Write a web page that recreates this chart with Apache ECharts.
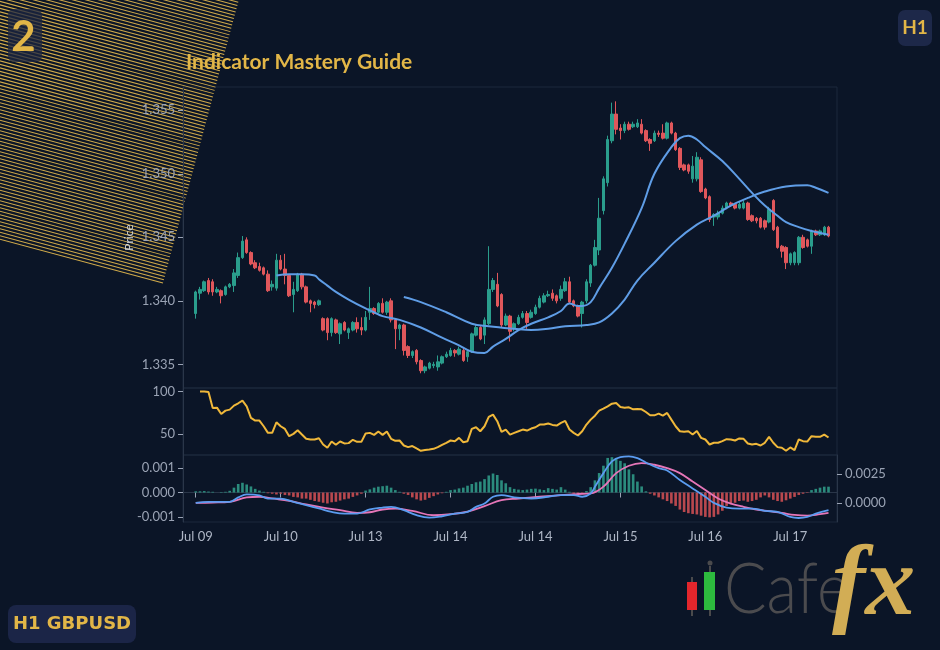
<!DOCTYPE html>
<html>
<head>
<meta charset="utf-8">
<script src="https://cdn.jsdelivr.net/npm/echarts@6/dist/echarts.min.js"></script>
<style>
  html, body { margin: 0; padding: 0; background: #0b1527; }
  #chart { width: 940px; height: 650px; }
</style>
</head>
<body>
<div id="chart"></div>
<script>
// tick labels, one every 20 hourly bars
const tickLabels = ['Jul 09', 'Jul 10', 'Jul 13', 'Jul 14', 'Jul 14', 'Jul 15', 'Jul 16', 'Jul 17'];

// GBPUSD H1 candles
const opens = [
  1.3390, 1.3406, 1.3408, 1.3416, 1.3415, 1.3407, 1.3408, 1.3405, 1.3411, 1.3412,
  1.3420, 1.3434, 1.3448, 1.3438, 1.3430, 1.3427, 1.3426, 1.3421, 1.3411, 1.3410,
  1.3432, 1.3425, 1.3420, 1.3405, 1.3408, 1.3421, 1.3411, 1.3400, 1.3399, 1.3397,
  1.3386, 1.3386, 1.3375, 1.3385, 1.3374, 1.3383, 1.3375, 1.3377, 1.3383, 1.3379,
  1.3377, 1.3391, 1.3394, 1.3391, 1.3398, 1.3391, 1.3400, 1.3385, 1.3378, 1.3381,
  1.3364, 1.3357, 1.3361, 1.3353, 1.3345, 1.3347, 1.3349, 1.3348, 1.3351, 1.3356,
  1.3357, 1.3361, 1.3358, 1.3361, 1.3356, 1.3360, 1.3373, 1.3379, 1.3373, 1.3382,
  1.3409, 1.3413, 1.3405, 1.3381, 1.3388, 1.3378, 1.3382, 1.3387, 1.3390, 1.3387,
  1.3390, 1.3395, 1.3399, 1.3404, 1.3406, 1.3404, 1.3402, 1.3408, 1.3415, 1.3400,
  1.3396, 1.3390, 1.3400, 1.3414, 1.3428, 1.3440, 1.3471, 1.3493, 1.3526, 1.3547,
  1.3536, 1.3534, 1.3539, 1.3537, 1.3537, 1.3539, 1.3534, 1.3527, 1.3526, 1.3532,
  1.3532, 1.3528, 1.3540, 1.3532, 1.3520, 1.3507, 1.3507, 1.3496, 1.3496, 1.3511,
  1.3488, 1.3482, 1.3466, 1.3466, 1.3469, 1.3473, 1.3477, 1.3476, 1.3473, 1.3473,
  1.3477, 1.3467, 1.3465, 1.3465, 1.3463, 1.3462, 1.3479, 1.3458, 1.3443, 1.3442,
  1.3430, 1.3430, 1.3430, 1.3450, 1.3448, 1.3443, 1.3455, 1.3452, 1.3452, 1.3458
];
const closes = [
  1.3407, 1.3409, 1.3415, 1.3407, 1.3407, 1.3409, 1.3404, 1.3411, 1.3413, 1.3422,
  1.3434, 1.3447, 1.3438, 1.3429, 1.3426, 1.3424, 1.3421, 1.3408, 1.3413, 1.3432,
  1.3425, 1.3420, 1.3404, 1.3409, 1.3421, 1.3411, 1.3399, 1.3398, 1.3397, 1.3400,
  1.3377, 1.3375, 1.3386, 1.3375, 1.3382, 1.3377, 1.3378, 1.3383, 1.3378, 1.3377,
  1.3387, 1.3394, 1.3390, 1.3398, 1.3391, 1.3399, 1.3385, 1.3378, 1.3381, 1.3361,
  1.3357, 1.3360, 1.3352, 1.3345, 1.3348, 1.3351, 1.3350, 1.3352, 1.3356, 1.3358,
  1.3361, 1.3359, 1.3362, 1.3353, 1.3360, 1.3374, 1.3379, 1.3370, 1.3385, 1.3409,
  1.3416, 1.3396, 1.3381, 1.3388, 1.3376, 1.3382, 1.3387, 1.3390, 1.3383, 1.3391,
  1.3395, 1.3402, 1.3404, 1.3405, 1.3402, 1.3400, 1.3409, 1.3415, 1.3399, 1.3396,
  1.3388, 1.3399, 1.3415, 1.3428, 1.3442, 1.3465, 1.3496, 1.3527, 1.3547, 1.3535,
  1.3534, 1.3539, 1.3535, 1.3539, 1.3540, 1.3532, 1.3526, 1.3524, 1.3532, 1.3531,
  1.3528, 1.3540, 1.3532, 1.3519, 1.3505, 1.3503, 1.3502, 1.3506, 1.3513, 1.3486,
  1.3481, 1.3464, 1.3468, 1.3469, 1.3473, 1.3477, 1.3475, 1.3473, 1.3476, 1.3477,
  1.3464, 1.3463, 1.3463, 1.3458, 1.3458, 1.3472, 1.3456, 1.3442, 1.3439, 1.3430,
  1.3437, 1.3438, 1.3450, 1.3442, 1.3443, 1.3455, 1.3452, 1.3455, 1.3458, 1.3451
];
const lows = [
  1.3386, 1.3401, 1.3407, 1.3405, 1.3404, 1.3406, 1.3398, 1.3404, 1.3410, 1.3407,
  1.3418, 1.3433, 1.3437, 1.3428, 1.3425, 1.3423, 1.3420, 1.3407, 1.3408, 1.3408,
  1.3424, 1.3413, 1.3403, 1.3391, 1.3407, 1.3409, 1.3398, 1.3391, 1.3394, 1.3396,
  1.3376, 1.3369, 1.3372, 1.3374, 1.3366, 1.3376, 1.3370, 1.3376, 1.3375, 1.3373,
  1.3376, 1.3385, 1.3389, 1.3390, 1.3390, 1.3389, 1.3383, 1.3362, 1.3369, 1.3357,
  1.3355, 1.3355, 1.3350, 1.3343, 1.3343, 1.3346, 1.3347, 1.3345, 1.3350, 1.3355,
  1.3356, 1.3356, 1.3357, 1.3352, 1.3352, 1.3359, 1.3372, 1.3369, 1.3366, 1.3381,
  1.3407, 1.3395, 1.3379, 1.3380, 1.3368, 1.3376, 1.3381, 1.3386, 1.3378, 1.3386,
  1.3389, 1.3394, 1.3398, 1.3403, 1.3400, 1.3398, 1.3400, 1.3407, 1.3398, 1.3395,
  1.3387, 1.3379, 1.3398, 1.3411, 1.3427, 1.3436, 1.3468, 1.3490, 1.3524, 1.3531,
  1.3527, 1.3532, 1.3534, 1.3536, 1.3536, 1.3531, 1.3525, 1.3518, 1.3525, 1.3529,
  1.3527, 1.3527, 1.3531, 1.3518, 1.3503, 1.3502, 1.3500, 1.3493, 1.3494, 1.3485,
  1.3480, 1.3462, 1.3459, 1.3464, 1.3468, 1.3472, 1.3474, 1.3472, 1.3472, 1.3472,
  1.3463, 1.3462, 1.3461, 1.3457, 1.3456, 1.3461, 1.3455, 1.3441, 1.3434, 1.3425,
  1.3428, 1.3428, 1.3428, 1.3441, 1.3442, 1.3437, 1.3451, 1.3451, 1.3451, 1.3450
];
const highs = [
  1.3408, 1.3411, 1.3416, 1.3418, 1.3417, 1.3411, 1.3409, 1.3412, 1.3414, 1.3425,
  1.3438, 1.3451, 1.3450, 1.3439, 1.3432, 1.3430, 1.3427, 1.3424, 1.3416, 1.3437,
  1.3436, 1.3437, 1.3421, 1.3415, 1.3422, 1.3422, 1.3412, 1.3401, 1.3400, 1.3401,
  1.3387, 1.3387, 1.3387, 1.3386, 1.3383, 1.3384, 1.3379, 1.3384, 1.3387, 1.3387,
  1.3392, 1.3411, 1.3395, 1.3399, 1.3402, 1.3400, 1.3402, 1.3386, 1.3382, 1.3382,
  1.3365, 1.3361, 1.3362, 1.3354, 1.3349, 1.3352, 1.3352, 1.3357, 1.3357, 1.3360,
  1.3363, 1.3362, 1.3364, 1.3363, 1.3361, 1.3375, 1.3381, 1.3380, 1.3387, 1.3443,
  1.3418, 1.3422, 1.3406, 1.3390, 1.3389, 1.3383, 1.3389, 1.3392, 1.3392, 1.3393,
  1.3397, 1.3404, 1.3406, 1.3408, 1.3409, 1.3405, 1.3412, 1.3418, 1.3419, 1.3401,
  1.3397, 1.3400, 1.3417, 1.3429, 1.3448, 1.3481, 1.3498, 1.3530, 1.3556, 1.3557,
  1.3539, 1.3541, 1.3541, 1.3541, 1.3543, 1.3543, 1.3535, 1.3528, 1.3534, 1.3534,
  1.3539, 1.3541, 1.3541, 1.3533, 1.3521, 1.3508, 1.3508, 1.3514, 1.3517, 1.3513,
  1.3489, 1.3483, 1.3469, 1.3471, 1.3475, 1.3478, 1.3478, 1.3477, 1.3478, 1.3479,
  1.3478, 1.3468, 1.3466, 1.3466, 1.3464, 1.3474, 1.3480, 1.3459, 1.3444, 1.3443,
  1.3438, 1.3439, 1.3451, 1.3452, 1.3449, 1.3456, 1.3456, 1.3456, 1.3459, 1.3459
];

// moving averages, read at [bar, value]
const ma20 = [
  [19, 1.3420], [22, 1.3421], [25, 1.3421], [28, 1.3420], [29, 1.3417], [31, 1.3412],
  [33, 1.3407], [36, 1.3401], [40, 1.3394], [42, 1.3391], [44, 1.3388], [48, 1.3385],
  [53, 1.3379], [58, 1.3371], [62, 1.3365], [65, 1.3360], [68, 1.3359], [70, 1.3364],
  [73, 1.3370], [76, 1.3377], [79, 1.3382], [83, 1.3387], [86, 1.3392], [88, 1.3398],
  [90, 1.3396], [91, 1.3396], [93, 1.3399], [95, 1.3410], [98, 1.3426], [101, 1.3445],
  [105, 1.3473], [108, 1.3500], [112, 1.3521], [114, 1.3528], [116, 1.3530], [118, 1.3527],
  [120, 1.3521], [124, 1.3510], [128, 1.3496], [131, 1.3485], [134, 1.3475], [137, 1.3467],
  [139, 1.3462], [142, 1.3458], [145, 1.3455], [149, 1.3452]
];
const ma50 = [
  [49, 1.3403], [53, 1.3399], [59, 1.3391], [65, 1.3382], [69, 1.3380], [75, 1.3378],
  [79, 1.3377], [83, 1.3378], [87, 1.3380], [92, 1.3381], [95, 1.3383], [98, 1.3390],
  [101, 1.3401], [104, 1.3416], [108, 1.3430], [113, 1.3447], [118, 1.3460], [122, 1.3467],
  [126, 1.3475], [130, 1.3481], [134, 1.3486], [139, 1.3490], [144, 1.3491], [146, 1.3489],
  [149, 1.3485]
];

// RSI per bar (first bar has none)
const rsi = [
  null, 100, 100, 99.2, 80.4, 80.8, 73.4, 77.3, 78.5, 83.2,
  86.0, 89.1, 82.4, 68.7, 65.6, 65.6, 58.9, 51.1, 51.1, 63.6,
  58.9, 55.8, 47.2, 49.9, 54.2, 49.1, 44.1, 43.3, 43.3, 44.8,
  37.4, 33.5, 40.9, 37.0, 40.9, 38.6, 39.0, 42.9, 40.5, 40.5,
  50.3, 51.1, 48.7, 52.7, 48.7, 52.7, 44.1, 41.7, 42.1, 36.2,
  34.3, 35.5, 32.7, 30.0, 30.8, 31.5, 32.3, 34.3, 37.0, 39.4,
  42.1, 41.3, 45.2, 40.1, 41.3, 55.8, 57.7, 53.0, 58.9, 69.9,
  72.6, 64.8, 52.3, 55.0, 49.1, 51.1, 53.0, 55.0, 53.8, 56.2,
  57.7, 60.9, 60.9, 62.1, 60.5, 59.7, 62.8, 65.2, 55.0, 51.1,
  48.0, 53.0, 60.9, 66.7, 71.4, 77.3, 79.7, 82.4, 85.5, 86.3,
  81.6, 80.8, 81.2, 78.9, 79.3, 78.9, 75.7, 71.8, 71.8, 73.8,
  71.4, 74.6, 66.7, 58.9, 53.0, 52.3, 53.0, 49.1, 53.4, 45.2,
  43.3, 37.4, 39.4, 39.4, 41.3, 43.7, 43.3, 42.1, 44.5, 44.1,
  38.6, 37.4, 38.2, 36.2, 39.4, 46.4, 39.4, 34.3, 33.5, 30.0,
  33.9, 30.8, 43.3, 41.3, 40.9, 47.2, 46.4, 46.4, 49.1, 45.6
];

// MACD histogram per bar (left scale)
const macdHist = [
  0.00005, 0.00005, 0.00006, 0.00004, 0.00003, 0.0, 0.00002, 0.00003, 0.00007, 0.0002,
  0.00035, 0.0004, 0.00033, 0.00025, 0.00015, 0.00008, 0.00003, -0.00003, -0.00005, -0.00008,
  -0.00005, -0.0001, -0.00012, -0.00018, -0.0002, -0.00025, -0.00025, -0.0003, -0.00035, -0.00038,
  -0.00042, -0.00045, -0.0004, -0.00038, -0.00033, -0.00028, -0.00025, -0.00018, -0.00012, -0.00005,
  0.00008, 0.00013, 0.0002, 0.00024, 0.00026, 0.00028, 0.0002, 0.0001, 0.00003, -0.00005,
  -0.0001, -0.0002, -0.00028, -0.00033, -0.0003, -0.00022, -0.00015, -0.00008, -0.00003, 0.00003,
  0.0001, 0.00012, 0.00017, 0.0002, 0.00028, 0.00035, 0.00042, 0.00045, 0.00055, 0.0007,
  0.00078, 0.00072, 0.0005, 0.00038, 0.00022, 0.00015, 0.00012, 0.0001, 0.00012, 0.00015,
  0.00016, 0.00013, 0.0001, 0.00018, 0.00015, 0.00012, 0.00022, 0.00012, 0.00003, -0.00005,
  -0.00005, -0.00003, 0.00006, 0.00022, 0.0005, 0.0008, 0.0011, 0.00142, 0.00145, 0.00142,
  0.0013, 0.0012, 0.00095, 0.00075, 0.00045, 0.00025, 0.00005, -0.00005, -0.00012, -0.0002,
  -0.00028, -0.00035, -0.00045, -0.00055, -0.0007, -0.0008, -0.00085, -0.00088, -0.0009, -0.00095,
  -0.001, -0.00102, -0.001, -0.0009, -0.00075, -0.00055, -0.00048, -0.00042, -0.00035, -0.00033,
  -0.00038, -0.00035, -0.0003, -0.0002, -0.00012, -0.0002, -0.0003, -0.00035, -0.00038, -0.00032,
  -0.00025, -0.00018, -0.0001, -0.00005, -0.00002, 0.0001, 0.00015, 0.0002, 0.00024, 0.00024
];

// MACD and signal lines (right scale), read at [bar, value]
const macdLine = [
  [0, 0], [3, 0.00009], [8, 0.00009], [10, 0.00047], [12, 0.00074], [15, 0.00065],
  [17, 0.00036], [20, 0.00036], [23, 0.00009], [26, -0.0002], [29, -0.00049], [32, -0.00079],
  [35, -0.00094], [38, -0.00094], [41, -0.00058], [44, -0.00041], [46, -0.00035], [49, -0.00064],
  [52, -0.00108], [55, -0.00129], [58, -0.00117], [61, -0.00094], [64, -0.00079], [66, -0.00035],
  [68, -0.00006], [70, 0.00053], [72, 0.00068], [75, 0.00047], [79, 0.00038], [83, 0.00053],
  [86, 0.00068], [89, 0.00068], [91, 0.00053], [93, 0.00082], [94, 0.00141], [96, 0.00259],
  [98, 0.00361], [100, 0.00399], [102, 0.00405], [104, 0.0039], [106, 0.00352], [109, 0.00302],
  [111, 0.00282], [114, 0.00199], [117, 0.00126], [120, 0.00053], [122, 0], [125, -0.00041],
  [128, -0.0005], [131, -0.0005], [134, -0.0007], [137, -0.00079], [140, -0.00123], [142, -0.00132],
  [144, -0.00123], [146, -0.00094], [149, -0.00064]
];
const signalLine = [
  [0, 0], [4, 0.00003], [8, 0.00009], [12, 0.00047], [15, 0.00053], [18, 0.00038],
  [22, 0.00018], [26, -0.00014], [30, -0.00041], [34, -0.00064], [38, -0.00088], [41, -0.00082],
  [44, -0.00058], [47, -0.0005], [51, -0.0007], [56, -0.00108], [60, -0.00099], [64, -0.00076],
  [68, -0.00029], [72, 0.00024], [76, 0.00038], [81, 0.00053], [86, 0.00068], [90, 0.00077],
  [93, 0.00082], [96, 0.00141], [99, 0.00259], [102, 0.00323], [105, 0.00347], [108, 0.00332],
  [111, 0.00302], [114, 0.00259], [117, 0.00185], [120, 0.00112], [123, 0.00038], [126, -0.00006],
  [129, -0.00035], [132, -0.00058], [135, -0.00073], [138, -0.00088], [141, -0.00105], [144, -0.00111],
  [147, -0.00099], [149, -0.00088]
];

const priceTicks = [1.335, 1.340, 1.345, 1.350, 1.355];
const rsiTicks = [50, 100];
const histTicks = [-0.001, 0, 0.001];
const macdTicks = [0, 0.0025];

// layout
const PAD_L = 3, PAD_R = 2, EVERY = 20;
const n = opens.length;
const cats = [];
for (let i = 0; i < n + PAD_L + PAD_R; i++) {
  const k = i - PAD_L;
  cats.push(k >= 0 && k < n && k % EVERY === 0 ? tickLabels[k / EVERY] : '');
}
const at = pts => pts.map(([k, v]) => [k + PAD_L, v]);

const UP = '#2a9d8c', DOWN = '#e0575b';
const AXIS = '#2a3649', LABEL = '#9aa3b4';
const font = 'Lato, "Noto Sans", sans-serif';

const grids = [
  { left: 183, right: 103, top: 87, height: 301 },
  { left: 183, right: 103, top: 388, height: 67 },
  { left: 183, right: 103, top: 455, height: 67 }
].map(g => Object.assign(g, { show: true, borderColor: '#1d293c', borderWidth: 1, backgroundColor: 'transparent' }));

const xAxes = [0, 1, 2].map(i => ({
  type: 'category', gridIndex: i, data: cats, boundaryGap: false,
  axisLine: { show: i === 2, lineStyle: { color: AXIS } },
  axisTick: { show: i === 2, interval: (idx, val) => val !== '', length: 5, lineStyle: { color: LABEL } },
  axisLabel: { show: i === 2, interval: 0, color: '#aeb6c5', fontSize: 13, margin: 8, fontFamily: font },
  splitLine: { show: false }
}));

const yBase = (extra) => Object.assign({
  type: 'value', scale: true,
  axisLine: { show: true, lineStyle: { color: AXIS } },
  axisTick: { show: true, length: 5, lineStyle: { color: LABEL } },
  splitLine: { show: false }
}, extra);

const yAxes = [
  yBase({
    gridIndex: 0, min: 1.33314, max: 1.35683,
    name: 'Price', nameLocation: 'middle', nameGap: 48, nameMoveOverlap: false,
    nameTextStyle: { color: '#cfd4dd', fontSize: 12, fontFamily: font },
    axisTick: { show: true, length: 5, customValues: priceTicks, lineStyle: { color: LABEL } },
    axisLabel: { customValues: priceTicks, color: LABEL, fontSize: 13, fontFamily: font, formatter: v => v.toFixed(3) }
  }),
  yBase({
    gridIndex: 1, min: 25, max: 104,
    axisTick: { show: true, length: 5, customValues: rsiTicks, lineStyle: { color: LABEL } },
    axisLabel: { customValues: rsiTicks, color: LABEL, fontSize: 13, fontFamily: font }
  }),
  yBase({
    gridIndex: 2, min: -0.00121, max: 0.00154,
    axisTick: { show: true, length: 5, customValues: histTicks, lineStyle: { color: LABEL } },
    axisLabel: { customValues: histTicks, color: LABEL, fontSize: 13, fontFamily: font, formatter: v => v.toFixed(3) }
  }),
  yBase({
    gridIndex: 2, position: 'right', min: -0.00167, max: 0.00417,
    axisTick: { show: true, length: 5, customValues: macdTicks, lineStyle: { color: LABEL } },
    axisLabel: { customValues: macdTicks, color: LABEL, fontSize: 13, fontFamily: font, formatter: v => v.toFixed(4) }
  })
];

// decorative hatch in the top-left corner
const hatch = [];
for (let j = 0; j < 90; j++) {
  hatch.push({ type: 'line', shape: { x1: -270, y1: -j * 3.38, x2: 0, y2: -j * 3.38 },
    style: { stroke: '#d2ab4a', lineWidth: 1 } });
}

const gold = '#e2b647';
const graphic = [
  { type: 'group', x: 163, y: 283, rotation: -Math.PI / 12, z: -10, silent: true, children: hatch },
  { type: 'rect', shape: { x: 8, y: 9, width: 34, height: 53, r: 6 }, style: { fill: 'rgba(28,38,66,0.75)' }, z: 10 },
  { type: 'text', x: 23.5, y: 37, style: { text: '2', fill: gold, font: 'bold 42px ' + font, align: 'center', verticalAlign: 'middle' }, z: 11 },
  { type: 'rect', shape: { x: 898, y: 10, width: 34, height: 36, r: 7 }, style: { fill: '#1d2849' }, z: 10 },
  { type: 'text', x: 915, y: 28, style: { text: 'H1', fill: gold, font: 'bold 19px ' + font, align: 'center', verticalAlign: 'middle' }, z: 11 },
  { type: 'rect', shape: { x: 8, y: 605, width: 128, height: 38, r: 8 }, style: { fill: '#1b2547' }, z: 10 },
  { type: 'text', x: 72, y: 624, style: { text: 'H1 GBPUSD', fill: gold, font: 'bold 18px "DejaVu Sans", sans-serif', align: 'center', verticalAlign: 'middle' }, z: 11 },
  // logo
  { type: 'line', shape: { x1: 692, y1: 577, x2: 692, y2: 616 }, style: { stroke: '#4a4a4c', lineWidth: 2 }, z: 10 },
  { type: 'rect', shape: { x: 687, y: 582, width: 10, height: 28 }, style: { fill: '#e3262c' }, z: 11 },
  { type: 'line', shape: { x1: 710, y1: 566, x2: 710, y2: 616 }, style: { stroke: '#4a4a4c', lineWidth: 2 }, z: 10 },
  { type: 'circle', shape: { cx: 710, cy: 563, r: 2.5 }, style: { fill: '#4a4a4c' }, z: 10 },
  { type: 'rect', shape: { x: 704, y: 572, width: 11, height: 38 }, style: { fill: '#2dbb3e' }, z: 11 },
  { type: 'text', x: 724, y: 590, scaleX: 0.9, style: { text: 'Cafe', fill: '#4b4b4e', font: '300 70px ' + font, verticalAlign: 'middle' }, z: 10 },
  { type: 'text', x: 832, y: 588, style: { text: 'fx', fill: '#d2ad55', font: 'italic bold 100px "Liberation Serif", serif', verticalAlign: 'middle' }, z: 10 }
];

const chart = echarts.init(document.getElementById('chart'), null, { renderer: 'canvas' });
chart.setOption({
  backgroundColor: '#0b1527',
  animation: false,
  title: {
    text: 'Indicator Mastery Guide', left: 186, top: 52, padding: 0,
    textStyle: { color: gold, fontSize: 21, fontWeight: 'bold', fontFamily: font }
  },
  grid: grids,
  xAxis: xAxes,
  yAxis: yAxes,
  graphic: graphic,
  series: [
    {
      type: 'candlestick', xAxisIndex: 0, yAxisIndex: 0, barWidth: 3,
      encode: { x: 0, y: [1, 2, 3, 4] },
      data: opens.map((o, i) => [i + PAD_L, o, closes[i], lows[i], highs[i]]),
      itemStyle: { color: UP, color0: DOWN, borderColor: UP, borderColor0: DOWN, borderWidth: 1 }
    },
    {
      type: 'line', xAxisIndex: 0, yAxisIndex: 0, data: at(ma20), smooth: 0.4, showSymbol: false,
      lineStyle: { color: '#5f9de6', width: 2 }, z: 5
    },
    {
      type: 'line', xAxisIndex: 0, yAxisIndex: 0, data: at(ma50), smooth: 0.4, showSymbol: false,
      lineStyle: { color: '#5f9de6', width: 2 }, z: 5
    },
    {
      type: 'line', xAxisIndex: 1, yAxisIndex: 1,
      data: rsi.map((v, k) => [k + PAD_L, v]).filter(p => p[1] != null),
      showSymbol: false, lineStyle: { color: '#f0b83a', width: 2 }
    },
    {
      type: 'bar', xAxisIndex: 2, yAxisIndex: 2, barWidth: '62%',
      data: macdHist.map((v, k) => [k + PAD_L, v]),
      itemStyle: { color: p => (p.value[1] >= 0 ? '#2b8b7d' : '#b9484e') }
    },
    {
      type: 'line', xAxisIndex: 2, yAxisIndex: 3, data: at(macdLine), smooth: 0.4, showSymbol: false,
      lineStyle: { color: '#5b9cf0', width: 1.8 }, z: 5
    },
    {
      type: 'line', xAxisIndex: 2, yAxisIndex: 3, data: at(signalLine), smooth: 0.4, showSymbol: false,
      lineStyle: { color: '#e676b8', width: 1.8 }, z: 4
    }
  ]
});
</script>
</body>
</html>
